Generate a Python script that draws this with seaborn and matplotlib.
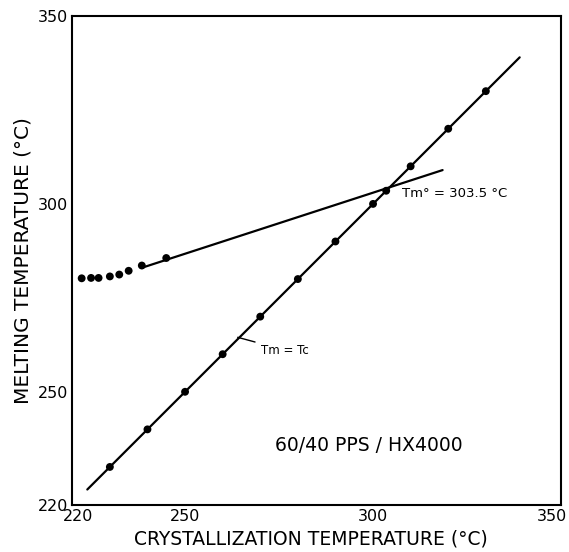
import matplotlib
matplotlib.use("Agg")
import matplotlib.pyplot as plt
import matplotlib.transforms as mtransforms
import seaborn as sns

# Data
tc_upper = [222.5, 225, 227, 230, 232.5, 235, 238.5, 245]
tm_upper = [280.2, 280.3, 280.3, 280.7, 281.2, 282.2, 283.6, 285.6]

tc_lower = [230, 240, 250, 260, 270, 280, 290, 300, 303.5, 310, 320, 330]
tm_lower = [230, 240, 250, 260, 270, 280, 290, 300, 303.5, 310, 320, 330]

fit_upper_x = [238.5, 318.5]
fit_upper_y = [283.0, 309.0]
eq_line_x = [224, 339]
eq_line_y = [224, 339]

xticks = [220, 250, 300, 350]
yticks = [220, 250, 300, 350]

sns.set_theme(style="white")
plt.rcParams['font.family'] = ['DejaVu Sans']
plt.rcParams.update({'text.color': 'black', 'axes.labelcolor': 'black',
                     'xtick.color': 'black', 'ytick.color': 'black'})

fig = plt.figure(figsize=(5.69, 5.52), dpi=100)
ax = fig.add_axes([0.127, 0.086, 0.859, 0.885])

sns.lineplot(x=fit_upper_x, y=fit_upper_y, ax=ax, color='black', lw=1.6, sort=False, estimator=None)
sns.lineplot(x=eq_line_x, y=eq_line_y, ax=ax, color='black', lw=1.6, sort=False, estimator=None)
sns.scatterplot(x=tc_upper, y=tm_upper, ax=ax, color='black', s=32, edgecolor='none')
sns.scatterplot(x=tc_lower, y=tm_lower, ax=ax, color='black', s=32, edgecolor='none')

ax.set_xlim(220, 350)
ax.set_ylim(220, 350)
ax.set_xticks(xticks)
ax.set_yticks(yticks)
ax.tick_params(direction='in', length=8, width=1.2, labelsize=11.5, pad=3, color='black')
xl = ax.get_xticklabels()
xl[0].set_transform(xl[0].get_transform() +
                    mtransforms.ScaledTranslation(0.06, 0, fig.dpi_scale_trans))
xl[-1].set_transform(xl[-1].get_transform() +
                     mtransforms.ScaledTranslation(-0.09, 0, fig.dpi_scale_trans))
for sp in ax.spines.values():
    sp.set_color('black')
    sp.set_linewidth(1.5)

ax.set_xlabel('CRYSTALLIZATION TEMPERATURE (°C)', fontsize=13.5)
ax.set_ylabel('MELTING TEMPERATURE (°C)', fontsize=14.5)
ax.xaxis.set_label_coords(0.4886, -0.052)
ax.yaxis.set_label_coords(-0.082, 0.5)

ax.annotate('Tm = Tc', xy=(264, 264.5), xytext=(270.2, 261.1), fontsize=8.5,
            ha='left', va='center',
            arrowprops=dict(arrowstyle='-', color='black', lw=1, shrinkA=2, shrinkB=0))
ax.text(307.6, 302.8, 'Tm° = 303.5 °C', fontsize=9.5, ha='left', va='center')
ax.text(299, 235.6, '60/40 PPS / HX4000', fontsize=13.5, ha='center', va='center')

fig.savefig('out.png', dpi=100)
